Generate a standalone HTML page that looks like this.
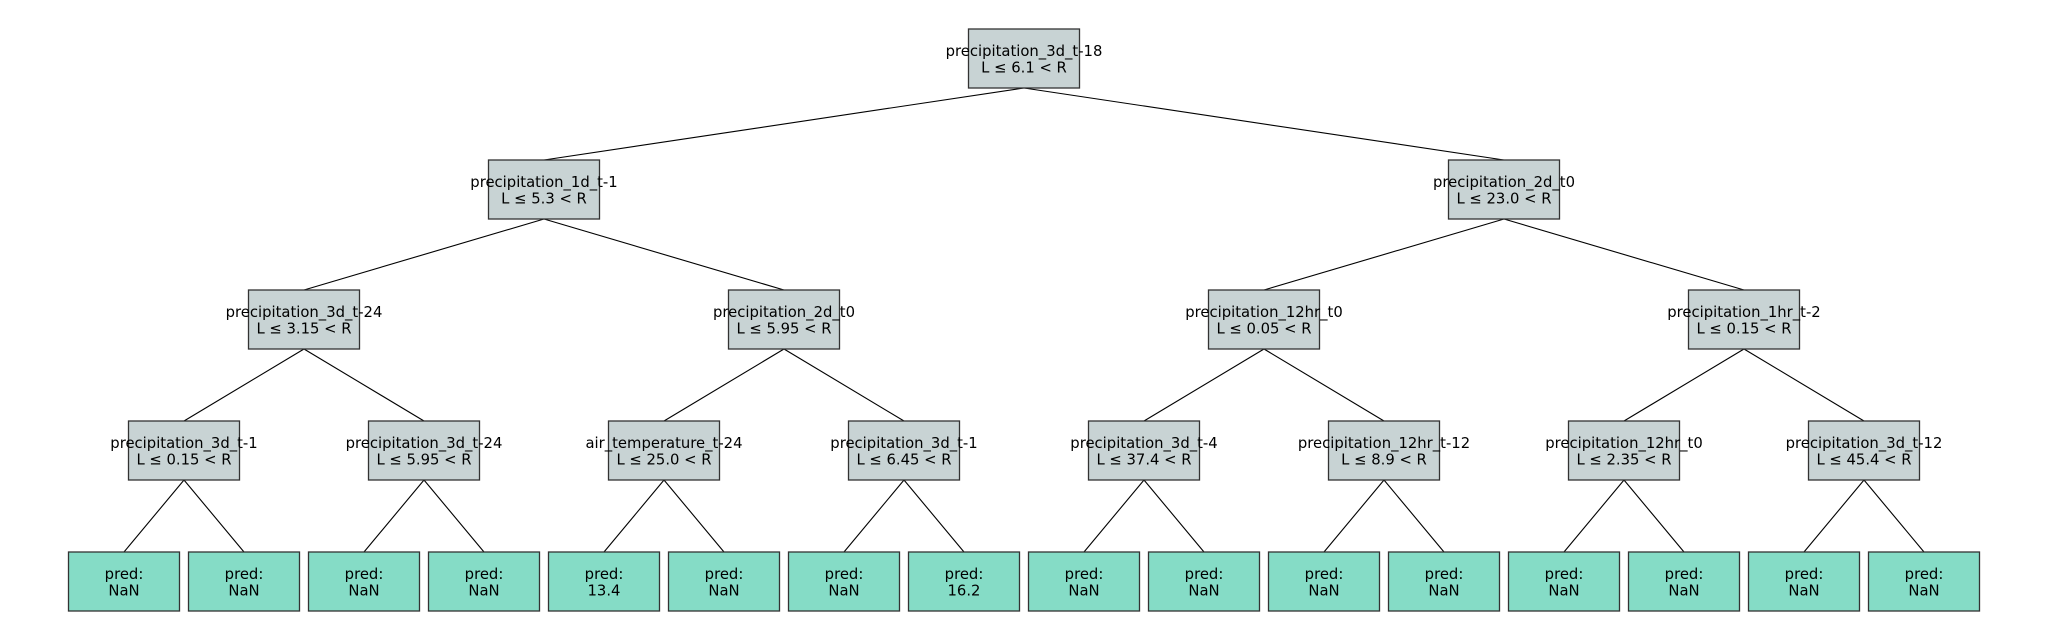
<!DOCTYPE html>
<html><head><meta charset="utf-8"><style>
html,body{margin:0;padding:0;background:#fff;}
svg{display:block;}
text{font-family:"DejaVu Sans","Liberation Sans",sans-serif;font-size:14.8px;fill:#000;text-anchor:middle;}
.n{fill:#c8d3d4;stroke:#333;stroke-width:1.3;}
.l{fill:#85dcc6;stroke:#333;stroke-width:1.3;}
line{stroke:#000;stroke-width:1.1;}
</style></head><body>
<svg width="2048" height="640" viewBox="0 0 2048 640" xmlns="http://www.w3.org/2000/svg">
<line x1="1024" y1="88" x2="544" y2="160"/><line x1="1024" y1="88" x2="1504" y2="160"/>
<line x1="544" y1="219" x2="304" y2="290"/><line x1="544" y1="219" x2="784" y2="290"/>
<line x1="1504" y1="219" x2="1264" y2="290"/><line x1="1504" y1="219" x2="1744" y2="290"/>
<line x1="304" y1="349" x2="184" y2="421"/><line x1="304" y1="349" x2="424" y2="421"/>
<line x1="784" y1="349" x2="664" y2="421"/><line x1="784" y1="349" x2="904" y2="421"/>
<line x1="1264" y1="349" x2="1144" y2="421"/><line x1="1264" y1="349" x2="1384" y2="421"/>
<line x1="1744" y1="349" x2="1624" y2="421"/><line x1="1744" y1="349" x2="1864" y2="421"/>
<line x1="184" y1="480" x2="124" y2="552"/><line x1="184" y1="480" x2="244" y2="552"/>
<line x1="424" y1="480" x2="364" y2="552"/><line x1="424" y1="480" x2="484" y2="552"/>
<line x1="664" y1="480" x2="604" y2="552"/><line x1="664" y1="480" x2="724" y2="552"/>
<line x1="904" y1="480" x2="844" y2="552"/><line x1="904" y1="480" x2="964" y2="552"/>
<line x1="1144" y1="480" x2="1084" y2="552"/><line x1="1144" y1="480" x2="1204" y2="552"/>
<line x1="1384" y1="480" x2="1324" y2="552"/><line x1="1384" y1="480" x2="1444" y2="552"/>
<line x1="1624" y1="480" x2="1564" y2="552"/><line x1="1624" y1="480" x2="1684" y2="552"/>
<line x1="1864" y1="480" x2="1804" y2="552"/><line x1="1864" y1="480" x2="1924" y2="552"/>

<rect class="n" x="968.5" y="29" width="111" height="59"/>
<text x="1024" y="56">precipitation_3d_t-18</text><text x="1024" y="72.5">L ≤ 6.1 &lt; R</text>
<rect class="n" x="488.5" y="160" width="111" height="59"/>
<text x="544" y="187">precipitation_1d_t-1</text><text x="544" y="203.5">L ≤ 5.3 &lt; R</text>
<rect class="n" x="1448.5" y="160" width="111" height="59"/>
<text x="1504" y="187">precipitation_2d_t0</text><text x="1504" y="203.5">L ≤ 23.0 &lt; R</text>
<rect class="n" x="248.5" y="290" width="111" height="59"/>
<text x="304" y="317">precipitation_3d_t-24</text><text x="304" y="333.5">L ≤ 3.15 &lt; R</text>
<rect class="n" x="728.5" y="290" width="111" height="59"/>
<text x="784" y="317">precipitation_2d_t0</text><text x="784" y="333.5">L ≤ 5.95 &lt; R</text>
<rect class="n" x="1208.5" y="290" width="111" height="59"/>
<text x="1264" y="317">precipitation_12hr_t0</text><text x="1264" y="333.5">L ≤ 0.05 &lt; R</text>
<rect class="n" x="1688.5" y="290" width="111" height="59"/>
<text x="1744" y="317">precipitation_1hr_t-2</text><text x="1744" y="333.5">L ≤ 0.15 &lt; R</text>
<rect class="n" x="128.5" y="421" width="111" height="59"/>
<text x="184" y="448">precipitation_3d_t-1</text><text x="184" y="464.5">L ≤ 0.15 &lt; R</text>
<rect class="n" x="368.5" y="421" width="111" height="59"/>
<text x="424" y="448">precipitation_3d_t-24</text><text x="424" y="464.5">L ≤ 5.95 &lt; R</text>
<rect class="n" x="608.5" y="421" width="111" height="59"/>
<text x="664" y="448">air_temperature_t-24</text><text x="664" y="464.5">L ≤ 25.0 &lt; R</text>
<rect class="n" x="848.5" y="421" width="111" height="59"/>
<text x="904" y="448">precipitation_3d_t-1</text><text x="904" y="464.5">L ≤ 6.45 &lt; R</text>
<rect class="n" x="1088.5" y="421" width="111" height="59"/>
<text x="1144" y="448">precipitation_3d_t-4</text><text x="1144" y="464.5">L ≤ 37.4 &lt; R</text>
<rect class="n" x="1328.5" y="421" width="111" height="59"/>
<text x="1384" y="448">precipitation_12hr_t-12</text><text x="1384" y="464.5">L ≤ 8.9 &lt; R</text>
<rect class="n" x="1568.5" y="421" width="111" height="59"/>
<text x="1624" y="448">precipitation_12hr_t0</text><text x="1624" y="464.5">L ≤ 2.35 &lt; R</text>
<rect class="n" x="1808.5" y="421" width="111" height="59"/>
<text x="1864" y="448">precipitation_3d_t-12</text><text x="1864" y="464.5">L ≤ 45.4 &lt; R</text>
<rect class="l" x="68.5" y="552" width="111" height="59"/><text x="124" y="579">pred:</text><text x="124" y="595.5">NaN</text>
<rect class="l" x="188.5" y="552" width="111" height="59"/><text x="244" y="579">pred:</text><text x="244" y="595.5">NaN</text>
<rect class="l" x="308.5" y="552" width="111" height="59"/><text x="364" y="579">pred:</text><text x="364" y="595.5">NaN</text>
<rect class="l" x="428.5" y="552" width="111" height="59"/><text x="484" y="579">pred:</text><text x="484" y="595.5">NaN</text>
<rect class="l" x="548.5" y="552" width="111" height="59"/><text x="604" y="579">pred:</text><text x="604" y="595.5">13.4</text>
<rect class="l" x="668.5" y="552" width="111" height="59"/><text x="724" y="579">pred:</text><text x="724" y="595.5">NaN</text>
<rect class="l" x="788.5" y="552" width="111" height="59"/><text x="844" y="579">pred:</text><text x="844" y="595.5">NaN</text>
<rect class="l" x="908.5" y="552" width="111" height="59"/><text x="964" y="579">pred:</text><text x="964" y="595.5">16.2</text>
<rect class="l" x="1028.5" y="552" width="111" height="59"/><text x="1084" y="579">pred:</text><text x="1084" y="595.5">NaN</text>
<rect class="l" x="1148.5" y="552" width="111" height="59"/><text x="1204" y="579">pred:</text><text x="1204" y="595.5">NaN</text>
<rect class="l" x="1268.5" y="552" width="111" height="59"/><text x="1324" y="579">pred:</text><text x="1324" y="595.5">NaN</text>
<rect class="l" x="1388.5" y="552" width="111" height="59"/><text x="1444" y="579">pred:</text><text x="1444" y="595.5">NaN</text>
<rect class="l" x="1508.5" y="552" width="111" height="59"/><text x="1564" y="579">pred:</text><text x="1564" y="595.5">NaN</text>
<rect class="l" x="1628.5" y="552" width="111" height="59"/><text x="1684" y="579">pred:</text><text x="1684" y="595.5">NaN</text>
<rect class="l" x="1748.5" y="552" width="111" height="59"/><text x="1804" y="579">pred:</text><text x="1804" y="595.5">NaN</text>
<rect class="l" x="1868.5" y="552" width="111" height="59"/><text x="1924" y="579">pred:</text><text x="1924" y="595.5">NaN</text>
</svg>
</body></html>
